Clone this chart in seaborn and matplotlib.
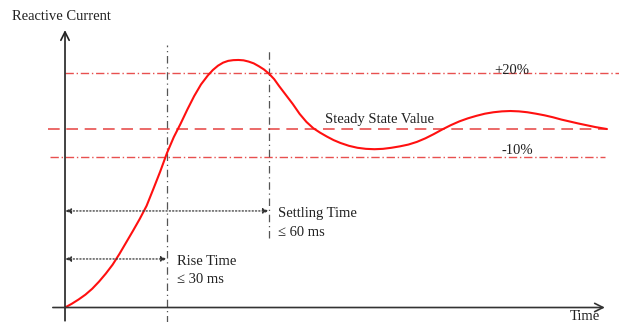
import numpy as np
import pandas as pd
import matplotlib
matplotlib.use("Agg")
import matplotlib.pyplot as plt
import seaborn as sns

# step response (time in ms, current relative to steady state)
time_ms = [0, 2, 4, 6, 8, 10, 12, 14, 16, 18, 20, 22, 24, 26, 28, 30, 32, 34, 36, 38,
           40, 42, 43.5, 45, 46.5, 48, 49.5, 51, 52.5, 54, 55.5, 57, 58.5, 60, 61.5, 63,
           65, 67, 69, 71, 73, 75, 77, 79, 81, 83.5, 86, 88.5, 91, 93.5, 96, 98.5, 101,
           103.5, 106, 108.5, 111, 113.5, 116, 118.5, 121, 123.5, 126, 128.5, 131, 133.5,
           136, 138.5, 141, 143.5, 146, 148.5, 151, 153.5, 156, 159.4]
current = [0, 0.021, 0.045, 0.072, 0.105, 0.145, 0.19, 0.24, 0.30, 0.365, 0.43, 0.497,
           0.57, 0.665, 0.762, 0.866, 0.955, 1.03, 1.11, 1.185, 1.25, 1.30, 1.331, 1.355,
           1.372, 1.382, 1.386, 1.387, 1.385, 1.378, 1.368, 1.352, 1.334, 1.31, 1.28, 1.24,
           1.19, 1.14, 1.085, 1.04, 1.005, 0.98, 0.958, 0.938, 0.922, 0.906, 0.895, 0.889,
           0.887, 0.889, 0.895, 0.903, 0.913, 0.928, 0.948, 0.972, 0.998, 1.022, 1.043,
           1.06, 1.074, 1.086, 1.094, 1.099, 1.101, 1.099, 1.094, 1.086, 1.077, 1.066,
           1.053, 1.042, 1.031, 1.021, 1.011, 1.0]

steady = 1.0
upper_band = 1.314
lower_band = 0.843
rise_time = 30
settling_time = 60

df = pd.DataFrame({"t": time_ms, "i": current})

sns.set_style("white")
plt.rcParams["font.family"] = ["Liberation Serif", "DejaVu Serif"]

fig = plt.figure(figsize=(6.19, 3.22), dpi=100)
ax = fig.add_axes([0, 0, 1, 1])
ax.set_xlim(-19.12, 162.94)
ax.set_ylim(-0.0812, 1.723)
ax.axis("off")

band_red = "#e8504f"
ax.plot([0, 163], [upper_band, upper_band], color=band_red, lw=1.0, ls=(0, (6, 2, 1, 2)))
ax.plot([-5, 159.4], [steady, steady], color=band_red, lw=1.2, ls=(0, (7, 4)))
ax.plot([-4.4, 158.8], [lower_band, lower_band], color=band_red, lw=1.0, ls=(0, (6, 2, 1, 2)))

ax.plot([rise_time, rise_time], [-0.09, 1.47], color="#555555", lw=0.9, ls=(0, (6, 3, 1, 3)))
ax.plot([settling_time, settling_time], [0.389, 1.443], color="#555555", lw=0.9, ls=(0, (6, 3, 1, 3)))

sns.lineplot(data=df, x="t", y="i", ax=ax, color="#ff1010", lw=1.5, sort=False)

# axes arrows
ax.annotate("", xy=(0, 1.57), xytext=(0, -0.09),
            arrowprops=dict(arrowstyle="->,head_length=0.6,head_width=0.3", color="#222222", lw=1.2))
ax.annotate("", xy=(159.6, 0), xytext=(-4.4, 0),
            arrowprops=dict(arrowstyle="->,head_length=0.6,head_width=0.3", color="#333333", lw=1.2))

# time span arrows
for t_end, lvl in [(settling_time, 0.541), (rise_time, 0.272)]:
    ax.annotate("", xy=(t_end, lvl), xytext=(0, lvl),
                arrowprops=dict(arrowstyle="<|-|>,head_length=0.35,head_width=0.15",
                                color="#333333", lw=0.9, ls=":", shrinkA=0, shrinkB=0))

fs = 10.5
ax.text(-15.6, 1.611, "Reactive Current", fontsize=fs, va="baseline", color="#222222")
ax.text(148.5, -0.07, "Time", fontsize=fs, va="baseline", color="#222222")
ax.text(126.2, 1.31, "+20%", fontsize=fs, va="baseline", color="#222222")
ax.text(128.5, 0.86, "-10%", fontsize=fs, va="baseline", color="#222222")
ax.text(76.5, 1.034, "Steady State Value", fontsize=fs, va="baseline", color="#222222")
ax.text(62.6, 0.507, "Settling Time", fontsize=fs, va="baseline", color="#222222")
ax.text(62.6, 0.40, "≤ 60 ms", fontsize=fs, va="baseline", color="#222222")
ax.text(33, 0.238, "Rise Time", fontsize=fs, va="baseline", color="#222222")
ax.text(33, 0.137, "≤ 30 ms", fontsize=fs, va="baseline", color="#222222")

fig.savefig("out.png", dpi=100)
